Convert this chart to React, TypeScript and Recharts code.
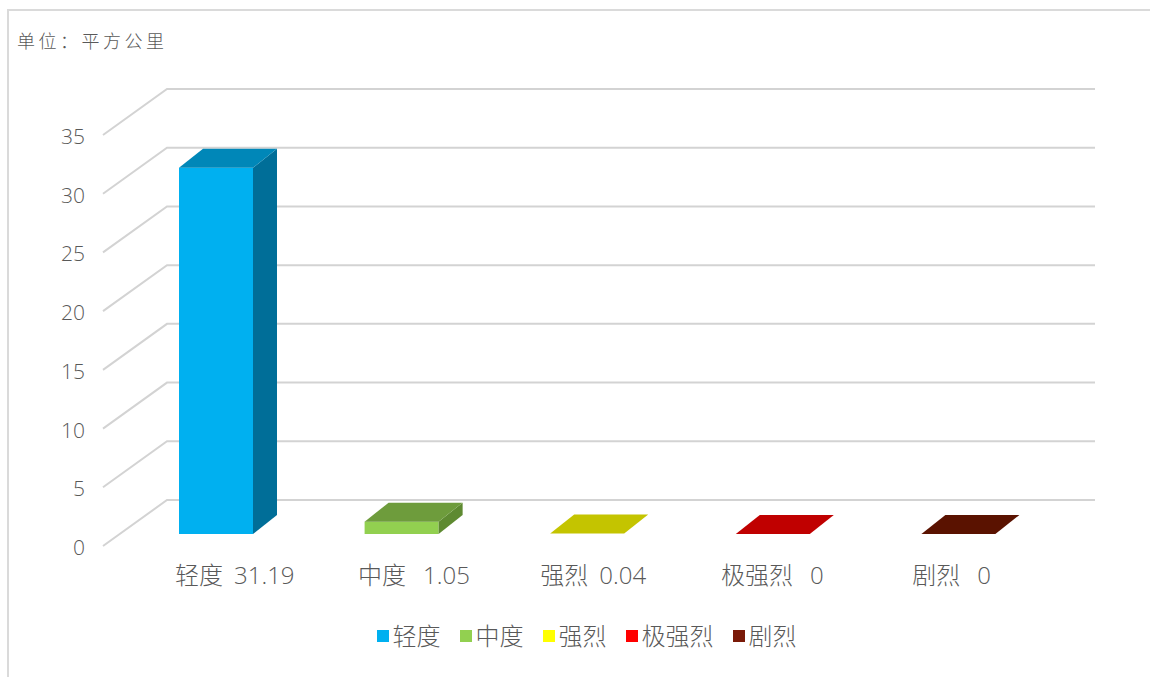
import React from "react";
import { BarChart, Bar, XAxis, YAxis, CartesianGrid, Legend } from "recharts";

const categories = ["轻度", "中度", "强烈", "极强烈", "剧烈"];
const areaValues = [31.19, 1.05, 0.04, 0, 0];
const categoryTickLabels = ["轻度 31.19", "中度  1.05", "强烈 0.04", "极强烈  0", "剧烈  0"];
const yTicks = [0, 5, 10, 15, 20, 25, 30, 35];
const legendColors = ["#00B0F0", "#92D050", "#FFFF00", "#FF0000", "#7A1A08"];
const frontColors = ["#00B0F0", "#92D050", "#FFFF00", "#FF0000", "#7A1A08"];
const topColors = ["#0087B8", "#6E9C3C", "#C4C400", "#C00000", "#5A1200"];
const sideColors = ["#006E98", "#5E8A31", "#A0A000", "#A00000", "#4A0E00"];

const data = categories.map((name, i) => ({
  name,
  value: areaValues[i],
  label: categoryTickLabels[i],
}));

const FONT = '"Noto Sans CJK SC", "Noto Sans", sans-serif';
const NUM_FONT = '"Open Sans", "Noto Sans", sans-serif';
const TEXT = "#595959";
const BAR_DX = 24;
const BAR_DY = 19;
const WALL_DX = 44;
const WALL_DY = 34;
// slight perspective of the category labels
const LABEL_VX = 767;
const LABEL_K = 0.9655;

const Bar3D = (props: any) => {
  const { x, y, width, height, index } = props;
  const h = Math.max(0, height || 0);
  const i = index ?? 0;
  const top = `M${x},${y} L${x + width},${y} L${x + width + BAR_DX},${y - BAR_DY} L${x + BAR_DX},${y - BAR_DY} Z`;
  const side = `M${x + width},${y} L${x + width + BAR_DX},${y - BAR_DY} L${x + width + BAR_DX},${y + h - BAR_DY} L${x + width},${y + h} Z`;
  return (
    <g>
      {h > 0.8 && <rect x={x} y={y} width={width} height={h} fill={frontColors[i]} />}
      {h > 0.8 && <path d={side} fill={sideColors[i]} />}
      <path d={top} fill={topColors[i]} />
    </g>
  );
};

const gridLine = (props: any) => {
  const { x1, x2, y1, index } = props;
  const d = `M${x1 - 20},${y1 + 12} L${x1 + WALL_DX},${y1 - WALL_DY} L${x2 + WALL_DX},${y1 - WALL_DY}`;
  return <path key={`g-${index}`} d={d} fill="none" stroke="#d3d3d3" strokeWidth={2} />;
};

const YTick = (props: any) => {
  const { y, payload } = props;
  return (
    <text x={85} y={y + 13} textAnchor="end" dominantBaseline="central" fill={TEXT} fontSize={21} fontFamily={NUM_FONT} fontWeight={300}>
      {payload.value}
    </text>
  );
};

const XTick = (props: any) => {
  const { x, y, index } = props;
  const label = categoryTickLabels[index] || "";
  const m = label.match(/^(\S+)(\s+)(\S+)$/);
  const name = m ? m[1] : label;
  const spaces = m ? m[2].length : 0;
  const num = m ? m[3] : "";
  const lx = LABEL_VX + (x - LABEL_VX) * LABEL_K;
  return (
    <text x={lx} y={y + 42} textAnchor="middle" fill={TEXT} fontSize={24}>
      <tspan fontFamily={FONT} fontWeight={300}>{name}</tspan>
      <tspan dx={6 * spaces + 5} fontFamily={NUM_FONT} fontWeight={300}>{num}</tspan>
    </text>
  );
};

const renderLegend = () => (
  <div style={{ display: "flex", justifyContent: "center", alignItems: "center", height: 30, paddingLeft: 23, fontFamily: FONT, fontWeight: 300, fontSize: 24, color: TEXT }}>
    {categories.map((c, i) => (
      <div key={c} style={{ display: "flex", alignItems: "center", marginRight: i < categories.length - 1 ? 19 : 0 }}>
        <span style={{ display: "inline-block", width: 12, height: 12, background: legendColors[i], marginRight: 4, marginTop: 3 }} />
        <span>{c}</span>
      </div>
    ))}
  </div>
);

export default function App() {
  return (
    <div style={{ position: "absolute", left: 0, top: 0, width: 1150, height: 677, overflow: "hidden", background: "#fff" }}>
      <div style={{ position: "absolute", left: 7, top: 9, width: 1200, height: 720, border: "2px solid #dadada" }} />
      <div style={{ position: "absolute", left: 17, top: 27, fontFamily: FONT, fontWeight: 300, fontSize: 18, letterSpacing: 3.5, color: TEXT }}>
        单位：平方公里
      </div>
      <div style={{ position: "absolute", left: 0, top: 0 }}>
        <BarChart width={1150} height={677} data={data} margin={{ top: 123, right: 99, bottom: 73, left: 0 }}>
          <CartesianGrid vertical={false} horizontal={gridLine} />
          <XAxis dataKey="name" axisLine={false} tickLine={false} height={40} tick={<XTick />} interval={0} />
          <YAxis domain={[0, 35]} ticks={yTicks} axisLine={false} tickLine={false} width={123} tick={<YTick />} interval={0} />
          <Legend verticalAlign="bottom" content={renderLegend} wrapperStyle={{ top: 619, bottom: "auto", left: 0, width: 1150, height: 30 }} />
          <Bar dataKey="value" barSize={74} isAnimationActive={false} shape={<Bar3D />} />
        </BarChart>
      </div>
    </div>
  );
}
